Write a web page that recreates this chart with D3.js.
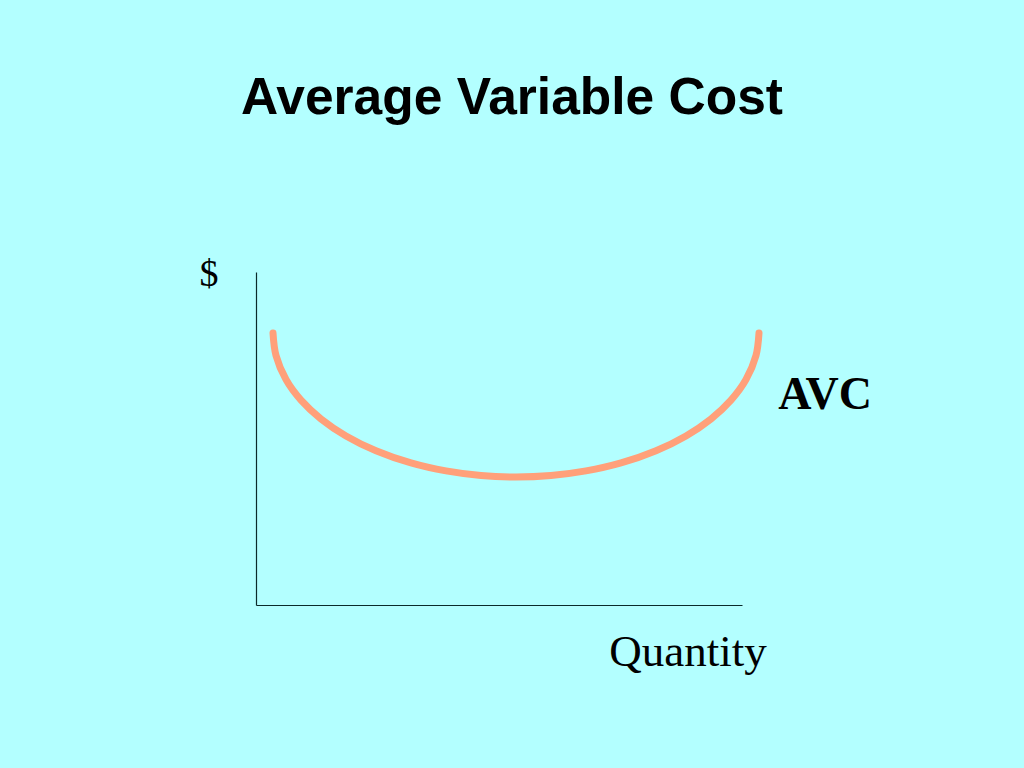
<!DOCTYPE html>
<html>
<head>
<meta charset="utf-8">
<script src="https://cdn.jsdelivr.net/npm/d3@7"></script>
<style>
  html, body { margin: 0; padding: 0; background: #B3FFFF; }
  svg { display: block; }
</style>
</head>
<body>
<svg id="chart" width="1024" height="768"></svg>
<script>
// Data: AVC curve (quantity, cost in arbitrary units)
const quantity = [17, 20, 30, 45, 65, 90, 120, 155, 190, 225, 260, 295, 330, 365, 400, 430, 455, 475, 490, 500, 503];
const avc      = [272, 249.5, 225.5, 204.9, 186.1, 169.1, 154.3, 142.1, 134.1, 129.5, 128, 129.5, 134.1, 142.1, 154.3, 169.1, 186.1, 204.9, 225.5, 249.5, 272];
const titleText = "Average Variable Cost";
const yLabel = "$";
const xLabel = "Quantity";
const seriesLabel = "AVC";

const svg = d3.select("#chart");
svg.append("rect").attr("width", 1024).attr("height", 768).attr("fill", "#B3FFFF");

const x = d3.scaleLinear().domain([0, 486]).range([256, 742]);
const y = d3.scaleLinear().domain([0, 333]).range([605, 272]);

// axes (no ticks)
svg.append("g").attr("transform", `translate(0,${y(0)})`)
  .call(d3.axisBottom(x).ticks(0).tickSize(0).tickSizeOuter(0))
  .call(g => g.select(".domain").attr("stroke", "#0a2a2a").attr("stroke-width", 1.2));
svg.append("g").attr("transform", `translate(${x(0)},0)`)
  .call(d3.axisLeft(y).ticks(0).tickSize(0).tickSizeOuter(0))
  .call(g => g.select(".domain").attr("stroke", "#0a2a2a").attr("stroke-width", 1.2));

// curve
const pts = quantity.map((q, i) => [q, avc[i]]);
const line = d3.line().x(d => x(d[0])).y(d => y(d[1])).curve(d3.curveCatmullRom.alpha(0.5));
svg.append("path").datum(pts)
  .attr("d", line)
  .attr("fill", "none")
  .attr("stroke", "#FFA07A")
  .attr("stroke-width", 7)
  .attr("stroke-linecap", "round");

// texts
svg.append("text").attr("x", 512).attr("y", 114).attr("text-anchor", "middle")
  .attr("font-family", "'Liberation Sans', Arial, sans-serif").attr("font-weight", "bold")
  .attr("font-size", 51.5).attr("fill", "#000").text(titleText);

svg.append("text").attr("x", 209).attr("y", 286).attr("text-anchor", "middle")
  .attr("font-family", "'Liberation Serif', 'Times New Roman', serif")
  .attr("font-size", 38).attr("fill", "#000").text(yLabel);

svg.append("text").attr("x", 688).attr("y", 666).attr("text-anchor", "middle")
  .attr("font-family", "'Liberation Serif', 'Times New Roman', serif")
  .attr("font-size", 45).attr("fill", "#000").text(xLabel);

svg.append("text").attr("x", 825).attr("y", 409).attr("text-anchor", "middle")
  .attr("font-family", "'Liberation Serif', 'Times New Roman', serif").attr("font-weight", "bold")
  .attr("font-size", 46).attr("fill", "#000").text(seriesLabel);
</script>
</body>
</html>
